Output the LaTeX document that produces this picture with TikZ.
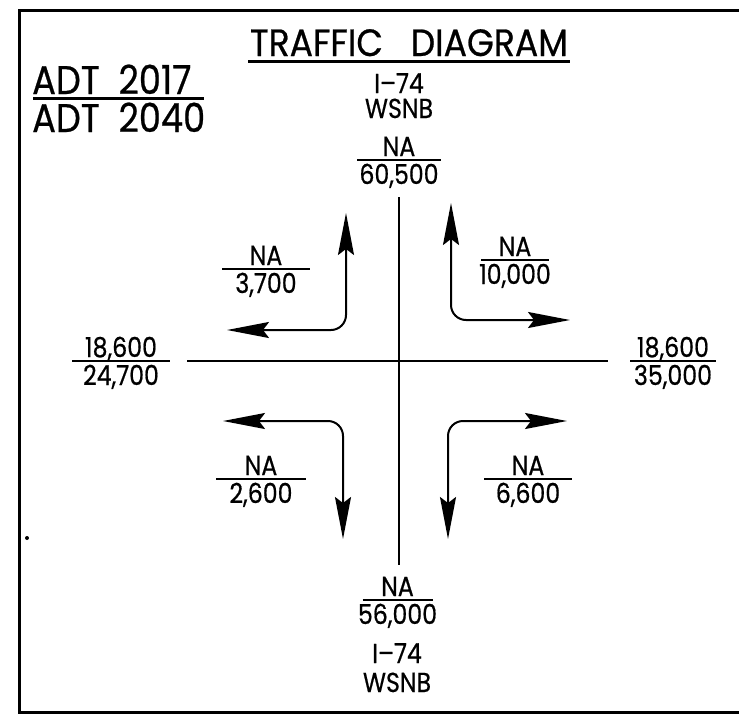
\documentclass[tikz,border=0pt]{standalone}
\usepackage{fontspec}
\setmainfont{Poppins}
\newfontfamily\numfont[FakeStretch=0.86,FakeBold=0.6]{Poppins}
\newfontfamily\titlefont[FakeStretch=0.91,FakeBold=0.6]{Poppins}
\newfontfamily\adtfont[FakeStretch=0.88,FakeBold=0.6]{Poppins}
\usetikzlibrary{arrows.meta}
\newcommand\trfrac[6]{%
  \node[num,anchor=base] (#1t) at (#2,#3-4) {#5};
  \draw[bar] (#2-#4,#3) -- (#2+#4,#3);
  \node[num,anchor=base] (#1b) at (#2,#3+24) {#6};}
\begin{document}
\begin{tikzpicture}[x=1pt,y=-1pt,
  num/.style={inner sep=0pt,text depth=0pt,font=\numfont\fontsize{27.5}{27.5}\selectfont},
  bar/.style={line width=2.2pt},
  road/.style={line width=2.5pt},
  turn/.style={line width=2pt,rounded corners=15pt,
    {Stealth[length=42pt,width=16pt,inset=6pt]}-{Stealth[length=42pt,width=16pt,inset=6pt]}},
  adt/.style={inner sep=0pt,text depth=0pt,text height=27pt,anchor=base west,font=\adtfont\fontsize{40}{40}\selectfont},
  frame/.style={line width=3pt}]
\useasboundingbox (0,0) rectangle (739,715);
% frame
\draw[frame] (739,10) -- (19,10) -- (19,712) -- (739,712);
% title
\node[inner sep=0pt,text depth=0pt,anchor=base,font=\titlefont\fontsize{38}{38}\selectfont] (title) at (409,56) {TRAFFIC\ \ \ DIAGRAM};
\draw[line width=3pt] (248,61) -- (570,61);
% legend
\node[adt] (adt1) at (32,94) {ADT\ \ 2017};
\draw[line width=3pt] (33,98) -- (204,98);
\node[adt] (adt2) at (32,132) {ADT\ \ 2040};
% road names
\node[num,anchor=base] (rn1) at (399,93) {I–74};
\node[num,anchor=base] (rn2) at (399,118) {WSNB};
\node[num,anchor=base] (rs1) at (397,663) {I–74};
\node[num,anchor=base] (rs2) at (397,692) {WSNB};
% volumes
\trfrac{vn}{399}{160}{42}{NA}{60,500}
\trfrac{vs}{397.5}{600}{35}{NA}{56,000}
\trfrac{vw}{121}{361}{49}{18,600}{24,700}
\trfrac{ve}{673}{361}{43}{18,600}{35,000}
\trfrac{qnw}{266}{269}{44}{NA}{3,700}
\trfrac{qne}{515}{260}{34}{NA}{10,000}
\trfrac{qsw}{261}{479}{45}{NA}{2,600}
\trfrac{qse}{528}{479}{44}{NA}{6,600}
% roads
\coordinate (rN) at (399,197);
\coordinate (rS) at (399,565);
\coordinate (rW) at (187,361);
\coordinate (rE) at (608,361);
\draw[road] (rN) -- (rS);
\draw[road] (rW) -- (rE);
% turning movements
\coordinate (nwa) at (227,330);
\coordinate (nwb) at (346,213);
\draw[turn] (nwa) -| (nwb);
\coordinate (nea) at (451,203);
\coordinate (neb) at (570,320);
\draw[turn] (nea) |- (neb);
\coordinate (swa) at (223,421);
\coordinate (swb) at (343,539);
\draw[turn] (swa) -| (swb);
\coordinate (sea) at (567,421);
\coordinate (seb) at (448,539);
\draw[turn] (sea) -| (seb);
% stray dot
\fill (27,538) circle (2pt);
\end{tikzpicture}
\end{document}
